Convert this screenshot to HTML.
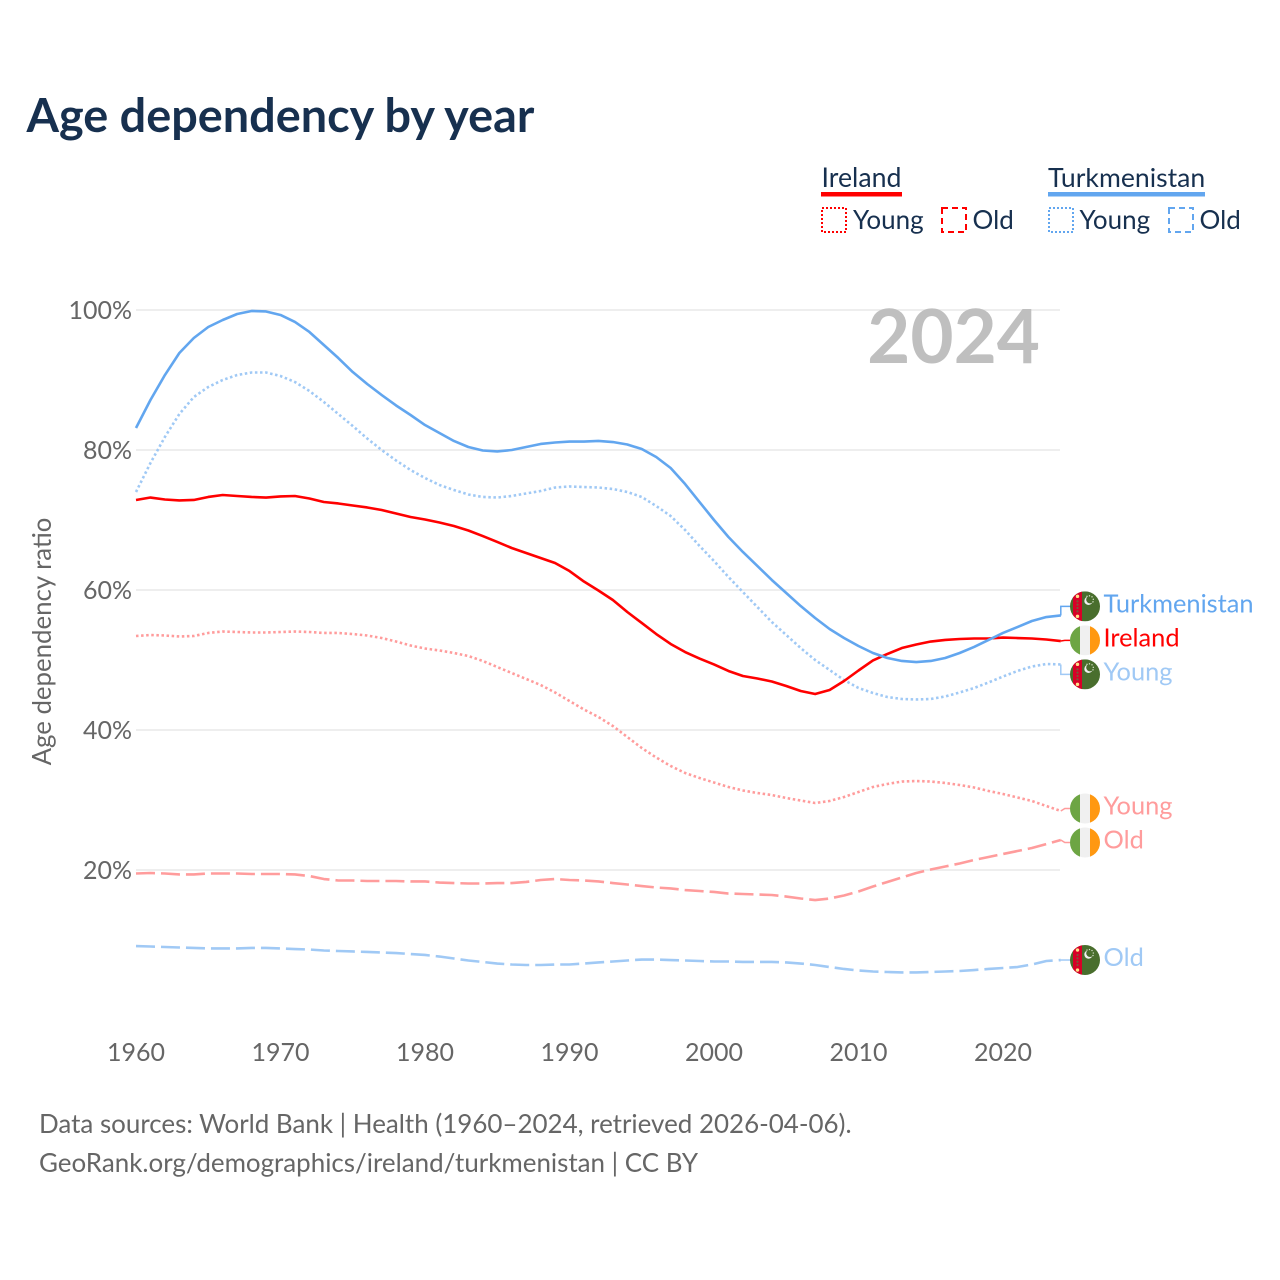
<!DOCTYPE html>
<html lang="en">
<head>
<meta charset="utf-8">
<title>Age dependency by year</title>
<style>
html,body{margin:0;padding:0;background:#fff;width:1280px;height:1280px;overflow:hidden}
svg{display:block}
text{font-family:"Lato","Carlito","Liberation Sans",sans-serif}
</style>
</head>
<body>
<svg id="chart" xmlns="http://www.w3.org/2000/svg" width="1280" height="1280" viewBox="0 0 1280 1280">
  <defs>
    <clipPath id="flag-clip"><circle cx="0" cy="0" r="15"/></clipPath>
  </defs>
  <text x="26.5" y="132" font-size="46.8" font-weight="700" fill="#17304f">Age dependency by year</text>

  <g font-size="26" fill="#17304f">
    <text x="821.5" y="187" font-size="26.7">Ireland</text>
    <rect x="821" y="192" width="81" height="4.5" fill="#ff0000"/>
    <rect x="822" y="208" width="24" height="24" fill="none" stroke="#ff0000" stroke-width="2" stroke-dasharray="2 2"/>
    <text x="853" y="229">Young</text>
    <rect x="942" y="208" width="24" height="24" fill="none" stroke="#ff0000" stroke-width="2" stroke-dasharray="6 4"/>
    <text x="972.5" y="229">Old</text>

    <text x="1048" y="187" font-size="26.6">Turkmenistan</text>
    <rect x="1048" y="192" width="157" height="4.5" fill="#62a6ef"/>
    <rect x="1049" y="208" width="24" height="24" fill="none" stroke="#62a6ef" stroke-width="2" stroke-dasharray="2 2"/>
    <text x="1079.5" y="229">Young</text>
    <rect x="1169" y="208" width="24" height="24" fill="none" stroke="#62a6ef" stroke-width="2" stroke-dasharray="6 4"/>
    <text x="1199.5" y="229">Old</text>
  </g>

  <g id="grid"></g>
  <g id="y-ticks"></g>
  <g id="x-ticks"></g>
  <text x="1040" y="363" font-size="74.5" font-weight="700" fill="#bfbfbf" text-anchor="end">2024</text>
  <text transform="translate(51 641.5) rotate(-90)" font-size="25.8" fill="#666666" text-anchor="middle">Age dependency ratio</text>
  <g id="series"></g>
  <g id="end-labels"></g>

  <text x="39" y="1133" font-size="25.95" fill="#666666">Data sources: World Bank | Health (1960–2024, retrieved 2026-04-06).</text>
  <text x="39" y="1172" font-size="25.95" fill="#666666">GeoRank.org/demographics/ireland/turkmenistan | CC BY</text>
</svg>
<script>
const startYear = 1960;
const yTickValues = [20, 40, 60, 80, 100];
const xTickValues = [1960, 1970, 1980, 1990, 2000, 2010, 2020];

const turkmenistanTotal = [83.14,87.14,90.71,93.86,96.0,97.57,98.57,99.43,99.86,99.79,99.29,98.29,96.86,95.0,93.14,91.14,89.43,87.86,86.36,85.0,83.57,82.43,81.29,80.43,79.93,79.79,80.0,80.43,80.86,81.07,81.21,81.21,81.29,81.14,80.79,80.14,79.0,77.43,75.14,72.57,70.0,67.57,65.43,63.43,61.43,59.57,57.71,56.0,54.43,53.14,52.0,51.0,50.29,49.86,49.71,49.86,50.29,51.0,51.86,52.86,53.86,54.71,55.57,56.14,56.36];
const irelandTotal = [72.86,73.21,72.93,72.79,72.86,73.29,73.57,73.43,73.29,73.21,73.36,73.43,73.07,72.57,72.36,72.07,71.79,71.43,70.93,70.43,70.07,69.64,69.14,68.5,67.71,66.86,66.0,65.29,64.57,63.86,62.71,61.21,59.93,58.57,56.86,55.29,53.71,52.29,51.14,50.21,49.36,48.43,47.71,47.36,46.93,46.29,45.57,45.14,45.71,47.0,48.5,49.93,50.86,51.71,52.21,52.64,52.86,53.0,53.07,53.07,53.21,53.14,53.07,52.93,52.71];
const turkmenistanYoung = [74.0,78.14,81.86,85.14,87.57,89.0,90.0,90.71,91.07,91.07,90.57,89.71,88.43,86.86,85.14,83.43,81.64,80.0,78.5,77.14,76.0,75.0,74.29,73.64,73.29,73.21,73.43,73.79,74.14,74.64,74.79,74.71,74.64,74.43,74.0,73.29,72.0,70.57,68.57,66.29,64.14,61.86,59.71,57.57,55.43,53.57,51.71,50.0,48.57,47.14,46.0,45.29,44.71,44.43,44.36,44.43,44.79,45.36,46.0,46.79,47.64,48.43,49.07,49.43,49.36];
const irelandYoung = [53.43,53.57,53.5,53.36,53.43,53.86,54.07,54.0,53.93,53.93,54.0,54.07,54.0,53.86,53.86,53.71,53.5,53.14,52.64,52.07,51.64,51.36,51.0,50.57,49.86,49.0,48.14,47.29,46.43,45.36,44.14,42.93,41.86,40.57,39.0,37.43,36.07,34.86,33.86,33.14,32.5,31.86,31.36,31.0,30.71,30.29,29.93,29.57,29.86,30.43,31.14,31.86,32.29,32.64,32.71,32.64,32.43,32.14,31.79,31.29,30.86,30.36,29.86,29.14,28.43];
const irelandOld = [19.5,19.57,19.5,19.36,19.36,19.5,19.5,19.5,19.43,19.43,19.43,19.36,19.14,18.71,18.5,18.5,18.43,18.43,18.43,18.36,18.36,18.21,18.14,18.07,18.07,18.14,18.14,18.29,18.57,18.71,18.57,18.5,18.36,18.14,17.93,17.71,17.5,17.36,17.14,17.0,16.86,16.64,16.57,16.5,16.43,16.21,15.93,15.71,15.93,16.36,16.93,17.64,18.29,18.93,19.57,20.07,20.5,20.93,21.43,21.86,22.29,22.71,23.14,23.71,24.29];
const turkmenistanOld = [9.14,9.07,9.0,8.93,8.86,8.79,8.79,8.79,8.86,8.86,8.79,8.71,8.64,8.5,8.43,8.36,8.29,8.21,8.14,8.0,7.86,7.64,7.36,7.07,6.86,6.64,6.5,6.43,6.43,6.5,6.5,6.64,6.79,6.93,7.07,7.21,7.21,7.14,7.07,7.0,6.93,6.93,6.86,6.86,6.86,6.79,6.64,6.43,6.14,5.86,5.64,5.5,5.43,5.36,5.36,5.43,5.5,5.57,5.71,5.86,6.0,6.14,6.5,7.0,7.14];

const NS = 'http://www.w3.org/2000/svg';
const xScale = function (year) { return 136 + (year - 1960) * 14.45; };
const yScale = function (value) { return 1010 - value * 7; };

function make(tag, props, parent) {
  const node = document.createElementNS(NS, tag);
  for (const key in props) node.setAttribute(key, props[key]);
  parent.appendChild(node);
  return node;
}

const gridGroup = document.getElementById('grid');
const yTickGroup = document.getElementById('y-ticks');
yTickValues.forEach(function (value) {
  const line = make('line', {x1: 136, x2: 1060, y1: yScale(value), y2: yScale(value), stroke: '#e8e8e8', 'stroke-width': 1.5}, gridGroup);
  
  
  const label = make('text', {x: 132, y: yScale(value) + 9, 'font-size': 25, fill: '#666666', 'text-anchor': 'end'}, yTickGroup);
  label.textContent = value + '%';
  
  
});

const xTickGroup = document.getElementById('x-ticks');
xTickValues.forEach(function (year) {
  const label = make('text', {x: xScale(year), y: 1061, 'font-size': 25, fill: '#666666', 'text-anchor': 'middle'}, xTickGroup);
  label.textContent = String(year);
  
  
});

const seriesList = [
  {key: 'ireland-old', values: irelandOld, color: '#ff9c9c', dash: '19 6', flag: 'ie', label: 'Old'},
  {key: 'turkmenistan-old', values: turkmenistanOld, color: '#a0c9f5', dash: '19 6', flag: 'tm', label: 'Old'},
  {key: 'ireland-young', values: irelandYoung, color: '#ff9c9c', dash: '2.5 2.6', flag: 'ie', label: 'Young'},
  {key: 'turkmenistan-young', values: turkmenistanYoung, color: '#a0c9f5', dash: '2.5 2.6', flag: 'tm', label: 'Young'},
  {key: 'ireland-total', values: irelandTotal, color: '#ff0000', dash: '', flag: 'ie', label: 'Ireland'},
  {key: 'turkmenistan-total', values: turkmenistanTotal, color: '#62a6ef', dash: '', flag: 'tm', label: 'Turkmenistan'}
];

const seriesGroup = document.getElementById('series');
seriesList.forEach(function (s) {
  const points = s.values.map(function (v, i) {
    return xScale(startYear + i).toFixed(2) + ',' + yScale(v).toFixed(2);
  }).join(' ');
  const props = {points: points, fill: 'none', stroke: s.color, 'stroke-width': 2.6, 'stroke-linejoin': 'round'};
  if (s.dash) props['stroke-dasharray'] = s.dash;
  const line = make('polyline', props, seriesGroup);
  
  
});

/* Push end labels apart into clusters with a minimum spacing */
const minGap = 34;
const ordered = seriesList.map(function (s) {
  return {s: s, endY: yScale(s.values[s.values.length - 1])};
}).sort(function (a, b) { return a.endY - b.endY; });
let clusters = ordered.map(function (item) { return {items: [item], mean: item.endY}; });
let merged = true;
while (merged) {
  merged = false;
  for (let i = 0; i < clusters.length - 1; i++) {
    const a = clusters[i], b = clusters[i + 1];
    const aBottom = a.mean + (a.items.length - 1) * minGap / 2;
    const bTop = b.mean - (b.items.length - 1) * minGap / 2;
    if (bTop - aBottom < minGap) {
      const items = a.items.concat(b.items);
      const mean = items.reduce(function (t, it) { return t + it.endY; }, 0) / items.length;
      clusters.splice(i, 2, {items: items, mean: mean});
      merged = true;
      break;
    }
  }
}
clusters.forEach(function (c) {
  c.items.forEach(function (it, i) {
    it.labelY = c.mean + (i - (c.items.length - 1) / 2) * minGap;
  });
});

function drawIreland(group) {
  make('rect', {x: -15, y: -15, width: 30, height: 30, fill: '#f0f0f0'}, group);
  make('rect', {x: -15, y: -15, width: 10, height: 30, fill: '#6da544'}, group);
  make('rect', {x: 5, y: -15, width: 10, height: 30, fill: '#ff9811'}, group);
}
function drawTurkmenistan(group) {
  make('rect', {x: -15, y: -15, width: 30, height: 30, fill: '#496e2d'}, group);
  make('rect', {x: -12, y: -15, width: 9, height: 30, fill: '#d80027'}, group);
  [-10, 10].forEach(function (dy) {
    make('circle', {cx: -7.5, cy: dy, r: 1.7, fill: '#ffe08a'}, group);
  });
  [-5, -1.7, 1.7, 5].forEach(function (dy) {
    make('circle', {cx: -7.5, cy: dy, r: 1.1, fill: '#7a5a3a'}, group);
  });
  make('circle', {cx: 3.5, cy: -5.5, r: 4.2, fill: '#f0f0f0'}, group);
  make('circle', {cx: 5, cy: -6.8, r: 3.8, fill: '#496e2d'}, group);
  [[2, -10], [4.5, -10.5], [7, -9.5], [8.3, -7], [8, -4.5]].forEach(function (p) {
    make('circle', {cx: p[0], cy: p[1], r: 0.7, fill: '#d8e4cc'}, group);
  });
}

const labelGroup = document.getElementById('end-labels');
ordered.forEach(function (it) {
  const s = it.s;
  const leaderStartX = xScale(startYear + s.values.length - 1);
  const bend = Math.abs(it.labelY - it.endY) > 6 ? leaderStartX : leaderStartX + 4;
  const leader = make('polyline', {points: leaderStartX + ',' + it.endY + ' ' + bend + ',' + it.labelY + ' 1071,' + it.labelY, fill: 'none', stroke: s.color, 'stroke-width': 1.5}, labelGroup);
  
  

  const flag = make('g', {transform: 'translate(1085 ' + it.labelY + ')', 'clip-path': 'url(#flag-clip)'}, labelGroup);
  
  
  if (s.flag === 'ie') drawIreland(flag); else drawTurkmenistan(flag);

  const text = make('text', {x: 1103.5, y: it.labelY + 6, 'font-size': 25.4, fill: s.color}, labelGroup);
  text.textContent = s.label;
  
  
});
</script>
</body>
</html>
